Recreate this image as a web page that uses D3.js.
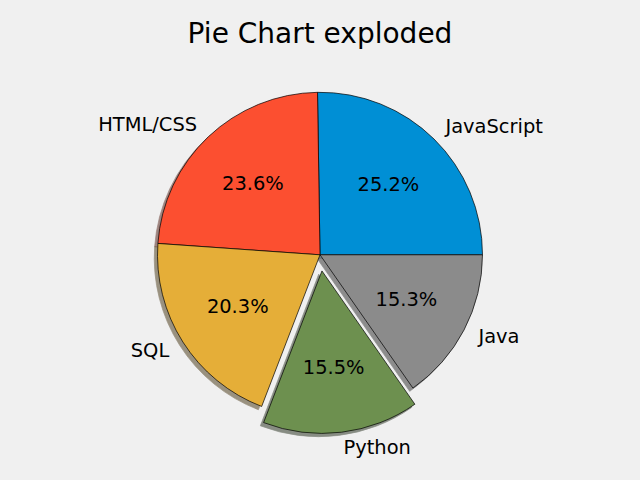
<!DOCTYPE html>
<html>
<head>
<meta charset="utf-8">
<script src="https://cdn.jsdelivr.net/npm/d3@7"></script>
<style>
  html, body { margin: 0; padding: 0; background: #f0f0f0; }
  svg { display: block; }
  text { font-family: "DejaVu Sans", sans-serif; fill: #000; }
</style>
</head>
<body>
<svg id="chart" width="640" height="480"></svg>
<script>
const labels = ["JavaScript", "HTML/CSS", "SQL", "Python", "Java"];
const slices = [59219, 55466, 47544, 36443, 35917];
const explode = [0, 0, 0, 0.1, 0];
const colors = ["#008fd5", "#fc4f30", "#e5ae38", "#6d904f", "#8b8b8b"];
const title = "Pie Chart exploded";

const W = 640, H = 480;
const cx = 320, cy = 254.8, R = 162.5;
const fontSize = 19.44;

const svg = d3.select("#chart");
svg.append("rect").attr("width", W).attr("height", H).attr("fill", "#f0f0f0");

const total = d3.sum(slices);
const pie = d3.pie().sort(null).startAngle(Math.PI / 2).endAngle(Math.PI / 2 - 2 * Math.PI);
const arcs = pie(slices);
const arc = d3.arc().innerRadius(0).outerRadius(R);

function mid(d) { return (d.startAngle + d.endAngle) / 2; }
function offset(d, i) {
  const m = mid(d), e = explode[i] * R;
  return [Math.sin(m) * e, -Math.cos(m) * e];
}

const g = svg.append("g").attr("transform", `translate(${cx},${cy})`);

// shadows
const sh = 0.02 * R;
g.append("g").selectAll("path").data(arcs).join("path")
  .attr("d", arc)
  .attr("transform", (d, i) => { const o = offset(d, i); return `translate(${o[0] - sh},${o[1] + sh})`; })
  .attr("fill", (d, i) => { const c = d3.rgb(colors[i]); return d3.rgb(c.r * 0.3, c.g * 0.3, c.b * 0.3); })
  .attr("stroke", (d, i) => { const c = d3.rgb(colors[i]); return d3.rgb(c.r * 0.3, c.g * 0.3, c.b * 0.3); })
  .attr("stroke-width", 0.7)
  .attr("opacity", 0.5);

// wedges
g.append("g").selectAll("path").data(arcs).join("path")
  .attr("d", arc)
  .attr("transform", (d, i) => { const o = offset(d, i); return `translate(${o[0]},${o[1]})`; })
  .attr("fill", (d, i) => colors[i])
  .attr("stroke", "#000")
  .attr("stroke-width", 0.7)
  .attr("stroke-linejoin", "round");

// labels
g.append("g").selectAll("text").data(arcs).join("text")
  .attr("x", (d, i) => offset(d, i)[0] + Math.sin(mid(d)) * 1.1 * R)
  .attr("y", (d, i) => offset(d, i)[1] - Math.cos(mid(d)) * 1.1 * R)
  .attr("dy", "0.3em")
  .attr("text-anchor", d => Math.sin(mid(d)) > 0 ? "start" : "end")
  .attr("font-size", fontSize)
  .text((d, i) => labels[i]);

// percentages
g.append("g").selectAll("text").data(arcs).join("text")
  .attr("x", (d, i) => offset(d, i)[0] + Math.sin(mid(d)) * 0.6 * R)
  .attr("y", (d, i) => offset(d, i)[1] - Math.cos(mid(d)) * 0.6 * R)
  .attr("dy", "0.3em")
  .attr("text-anchor", "middle")
  .attr("font-size", fontSize)
  .text(d => (d.value / total * 100).toFixed(1) + "%");

// title
svg.append("text")
  .attr("x", 320).attr("y", 42.7)
  .attr("text-anchor", "middle")
  .attr("font-size", 28)
  .text(title);
</script>
</body>
</html>
